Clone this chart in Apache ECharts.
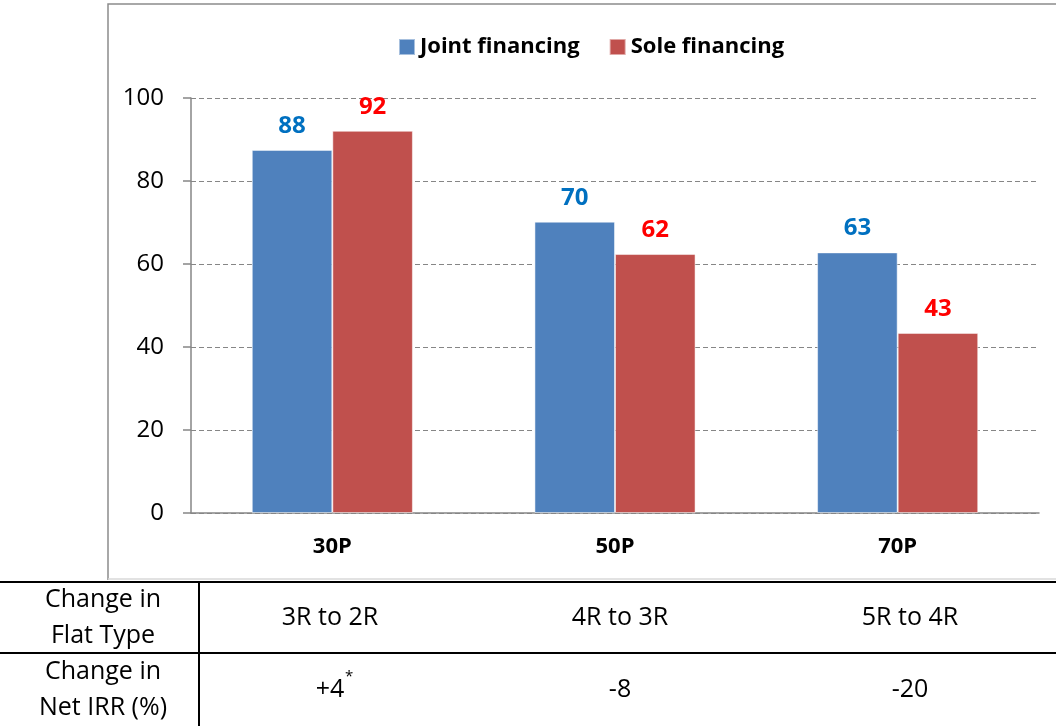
<!DOCTYPE html>
<html>
<head>
<meta charset="utf-8">
<script src="https://cdn.jsdelivr.net/npm/echarts@6/dist/echarts.min.js"></script>
<style>
  html, body { margin: 0; padding: 0; background: #fff; }
  #main { width: 1056px; height: 726px; }
</style>
</head>
<body>
<div id="main"></div>
<script>
// chart data
var categories = ['30P', '50P', '70P'];
var jointFinancing = [87.5, 70.2, 62.8];
var soleFinancing = [92.1, 62.4, 43.4];
var yTicks = [0, 20, 40, 60, 80, 100];

// table under the chart
var rowHeaders = [['Change in', 'Flat Type'], ['Change in', 'Net IRR (%)']];
var flatTypeChange = ['3R to 2R', '4R to 3R', '5R to 4R'];
var netIrrChange = ['+4', '-8', '-20'];
var netIrrNote = ['*', '', ''];

var FONT = '"Open Sans", sans-serif';
var colX = [330, 620, 910];
var rowY = [618, 690];

var chart = echarts.init(document.getElementById('main'));

var graphics = [
  // chart frame
  { type: 'polyline', silent: true, shape: { points: [[108, 580], [108, 4], [1060, 4]] },
    style: { fill: null, stroke: '#8c8c8c', lineWidth: 1.5 } },
  { type: 'line', silent: true, shape: { x1: 108, y1: 579, x2: 1060, y2: 579 },
    style: { stroke: '#d9d9d9', lineWidth: 1.5 } },
  // table lines
  { type: 'line', silent: true, shape: { x1: 0, y1: 582, x2: 1056, y2: 582 },
    style: { stroke: '#000', lineWidth: 2 } },
  { type: 'line', silent: true, shape: { x1: 0, y1: 653, x2: 1056, y2: 653 },
    style: { stroke: '#000', lineWidth: 2 } },
  { type: 'line', silent: true, shape: { x1: 199, y1: 582, x2: 199, y2: 726 },
    style: { stroke: '#000', lineWidth: 2 } }
];

rowHeaders.forEach(function (lines, r) {
  graphics.push({
    type: 'text', silent: true, x: 103, y: rowY[r],
    style: { text: lines.join('\n'), font: '25px ' + FONT, fill: '#000',
      align: 'center', verticalAlign: 'middle', lineHeight: 36 }
  });
});
flatTypeChange.forEach(function (t, i) {
  graphics.push({
    type: 'text', silent: true, x: colX[i], y: rowY[0],
    style: { text: t, font: '25px ' + FONT, fill: '#000', align: 'center', verticalAlign: 'middle' }
  });
});
netIrrChange.forEach(function (t, i) {
  graphics.push({
    type: 'text', silent: true, x: colX[i], y: rowY[1],
    style: { text: t, font: '25px ' + FONT, fill: '#000', align: 'center', verticalAlign: 'middle' }
  });
  if (netIrrNote[i]) {
    graphics.push({
      type: 'text', silent: true, x: colX[i] + 15, y: rowY[1] - 13,
      style: { text: netIrrNote[i], font: '15px ' + FONT, fill: '#000', align: 'left', verticalAlign: 'middle' }
    });
  }
});

var option = {
  animation: false,
  color: ['#4F81BD', '#C0504D'],
  textStyle: { fontFamily: FONT },
  legend: {
    left: 393,
    top: 31,
    itemWidth: 16,
    itemHeight: 16,
    itemGap: 29,
    icon: 'rect',
    textStyle: { fontSize: 22, fontWeight: 'bold', color: '#000', fontFamily: FONT },
    data: ['Joint financing', 'Sole financing']
  },
  grid: { left: 191, right: 17, top: 98, bottom: 213 },
  xAxis: {
    type: 'category',
    data: categories,
    axisLine: { lineStyle: { color: '#868686', width: 1.5 } },
    axisTick: { length: 7, lineStyle: { color: '#868686', width: 1.5 } },
    axisLabel: { margin: 23, fontSize: 22, fontWeight: 'bold', color: '#000', fontFamily: FONT }
  },
  yAxis: {
    type: 'value',
    min: yTicks[0],
    max: yTicks[yTicks.length - 1],
    interval: yTicks[1] - yTicks[0],
    axisLine: { show: true, lineStyle: { color: '#868686', width: 1.5 } },
    axisTick: { show: true, length: 8, lineStyle: { color: '#868686', width: 1.5 } },
    axisLabel: { margin: 27, fontSize: 24, color: '#000', fontFamily: FONT },
    splitLine: { lineStyle: { color: '#868686', type: [5, 3], width: 1 } }
  },
  series: [
    {
      name: 'Joint financing',
      type: 'bar',
      data: jointFinancing,
      barGap: '0%',
      barCategoryGap: '43%',
      itemStyle: { borderColor: 'rgba(255,255,255,0.5)', borderWidth: 1 },
      label: { show: true, position: 'top', distance: 12, color: '#0070C0',
        fontSize: 24, fontWeight: 'bold', fontFamily: FONT,
        formatter: function (p) { return Math.round(p.value); } }
    },
    {
      name: 'Sole financing',
      type: 'bar',
      data: soleFinancing,
      itemStyle: { borderColor: 'rgba(255,255,255,0.5)', borderWidth: 1 },
      label: { show: true, position: 'top', distance: 12, color: '#FF0000',
        fontSize: 24, fontWeight: 'bold', fontFamily: FONT,
        formatter: function (p) { return Math.round(p.value); } }
    }
  ],
  graphic: graphics
};

chart.setOption(option);
</script>
</body>
</html>
